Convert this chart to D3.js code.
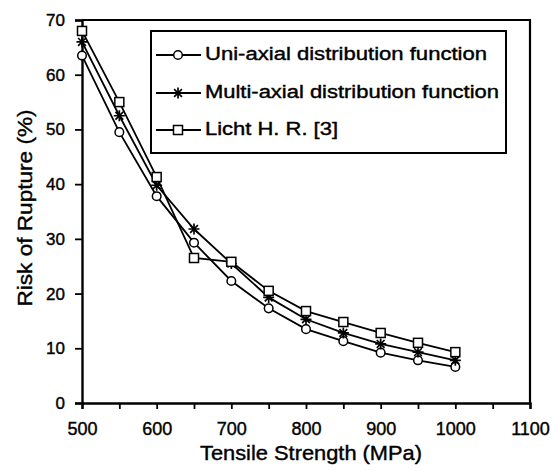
<!DOCTYPE html>
<html>
<head>
<meta charset="utf-8">
<script src="https://cdn.jsdelivr.net/npm/d3@7"></script>
<style>
  body { margin: 0; background: #fff; }
  svg text { font-family: "Liberation Sans", Arial, sans-serif; fill: #000; }
</style>
</head>
<body>
<svg id="chart" width="552" height="471"></svg>
<script>
// tensile strength (MPa)
var strength = [500, 550, 600, 650, 700, 750, 800, 850, 900, 950, 1000];
// risk of rupture (%)
var uniAxial   = [63.5, 49.5, 37.8, 29.3, 22.3, 17.3, 13.5, 11.3, 9.2, 7.8, 6.6];
var multiAxial = [66, 52.5, 39.8, 31.8, 25.5, 19.3, 15.3, 12.8, 10.8, 9.3, 7.8];
var licht      = [68, 55, 41.3, 26.5, 25.8, 20.5, 16.8, 14.8, 12.8, 11, 9.3];

var xTicks = [500, 600, 700, 800, 900, 1000, 1100];
var yTicks = [0, 10, 20, 30, 40, 50, 60, 70];

var seriesNames = ["Uni-axial distribution function", "Multi-axial distribution function", "Licht H. R. [3]"];
var seriesMarks = ["circle", "star", "square"];

var svg = d3.select("#chart");

// plot frame
var plot = {left: 82, right: 530, top: 20, bottom: 403};

var x = d3.scaleLinear().domain([500, 1100]).range([plot.left, plot.right]);
var y = d3.scaleLinear().domain([0, 70]).range([plot.bottom, plot.top]);

// frame: top and right border
svg.append("path")
    .attr("d", "M" + plot.left + "," + plot.top + "H" + plot.right + "V" + plot.bottom)
    .attr("fill", "none")
    .attr("stroke", "#000")
    .attr("stroke-width", 2.2);

// y axis
var yAxis = svg.append("g")
    .attr("transform", "translate(" + plot.left + ",0)")
    .call(d3.axisLeft(y).tickValues(yTicks).tickSize(7).tickPadding(10));

// x axis, ticks every 50, labels every 100
var xAxis = svg.append("g")
    .attr("transform", "translate(0," + plot.bottom + ")")
    .call(d3.axisBottom(x)
        .tickValues(d3.range(500, 1101, 50))
        .tickSize(6)
        .tickFormat(function (d) { return xTicks.indexOf(d) >= 0 ? d : ""; }));

[xAxis, yAxis].forEach(function (g) {
    g.select(".domain").attr("stroke-width", 2.4);
    g.selectAll(".tick line").attr("stroke-width", 1.8);
    g.selectAll(".tick text")
        .attr("fill", "#000")
        .attr("stroke", "#000")
        .attr("stroke-width", 0.4)
        .attr("font-family", "Liberation Sans, Arial, sans-serif");
});
yAxis.selectAll(".tick text").attr("font-size", 17);
xAxis.selectAll(".tick text")
    .attr("font-size", 18)
    .attr("y", 32)
    .attr("dy", null);

// axis titles
svg.append("text")
    .attr("x", 311)
    .attr("y", 460)
    .attr("text-anchor", "middle")
    .attr("font-size", 21)
    .attr("stroke", "#000").attr("stroke-width", 0.4)
    .attr("textLength", 222)
    .attr("lengthAdjust", "spacingAndGlyphs")
    .text("Tensile Strength (MPa)");

svg.append("text")
    .attr("transform", "translate(32,208) rotate(-90)")
    .attr("text-anchor", "middle")
    .attr("font-size", 21)
    .attr("stroke", "#000").attr("stroke-width", 0.4)
    .attr("textLength", 197)
    .attr("lengthAdjust", "spacingAndGlyphs")
    .text("Risk of Rupture (%)");

// markers
var drawMark = function (g, type, cx, cy) {
    if (type === "circle") {
        g.append("circle").attr("cx", cx).attr("cy", cy).attr("r", 4.3)
            .attr("fill", "#fff").attr("stroke", "#000").attr("stroke-width", 1.5);
    } else if (type === "square") {
        g.append("rect").attr("x", cx - 4.5).attr("y", cy - 4.5)
            .attr("width", 9).attr("height", 9)
            .attr("fill", "#fff").attr("stroke", "#000").attr("stroke-width", 1.5);
    } else {
        var r = 5.5, p = "";
        [0, 45, 90, 135].forEach(function (a) {
            var t = a * Math.PI / 180;
            p += "M" + (cx - r * Math.cos(t)) + "," + (cy - r * Math.sin(t)) +
                 "L" + (cx + r * Math.cos(t)) + "," + (cy + r * Math.sin(t));
        });
        g.append("path").attr("d", p).attr("stroke", "#000").attr("stroke-width", 1.7);
    }
};

var allSeries = [uniAxial, multiAxial, licht];
var line = d3.line()
    .x(function (d, i) { return x(strength[i]); })
    .y(function (d) { return y(d); });

allSeries.forEach(function (vals, k) {
    var g = svg.append("g");
    g.append("path")
        .attr("d", line(vals))
        .attr("fill", "none")
        .attr("stroke", "#000")
        .attr("stroke-width", 1.8);
    vals.forEach(function (v, i) {
        drawMark(g, seriesMarks[k], x(strength[i]), y(v));
    });
});

// legend
var legend = svg.append("g");
legend.append("rect")
    .attr("x", 151).attr("y", 31)
    .attr("width", 355).attr("height", 122)
    .attr("fill", "#fff")
    .attr("stroke", "#000")
    .attr("stroke-width", 2);

var legendRows = [55, 93, 130];
var legendWidths = [282, 294, 133];
seriesNames.forEach(function (name, k) {
    var ly = legendRows[k];
    legend.append("line")
        .attr("x1", 156).attr("x2", 201)
        .attr("y1", ly).attr("y2", ly)
        .attr("stroke", "#000").attr("stroke-width", 1.8);
    drawMark(legend, seriesMarks[k], 178, ly);
    legend.append("text")
        .attr("x", 205).attr("y", ly + 5)
        .attr("font-size", 18)
        .attr("stroke", "#000").attr("stroke-width", 0.4)
        .attr("textLength", legendWidths[k])
        .attr("lengthAdjust", "spacingAndGlyphs")
        .text(name);
});
</script>
</body>
</html>
